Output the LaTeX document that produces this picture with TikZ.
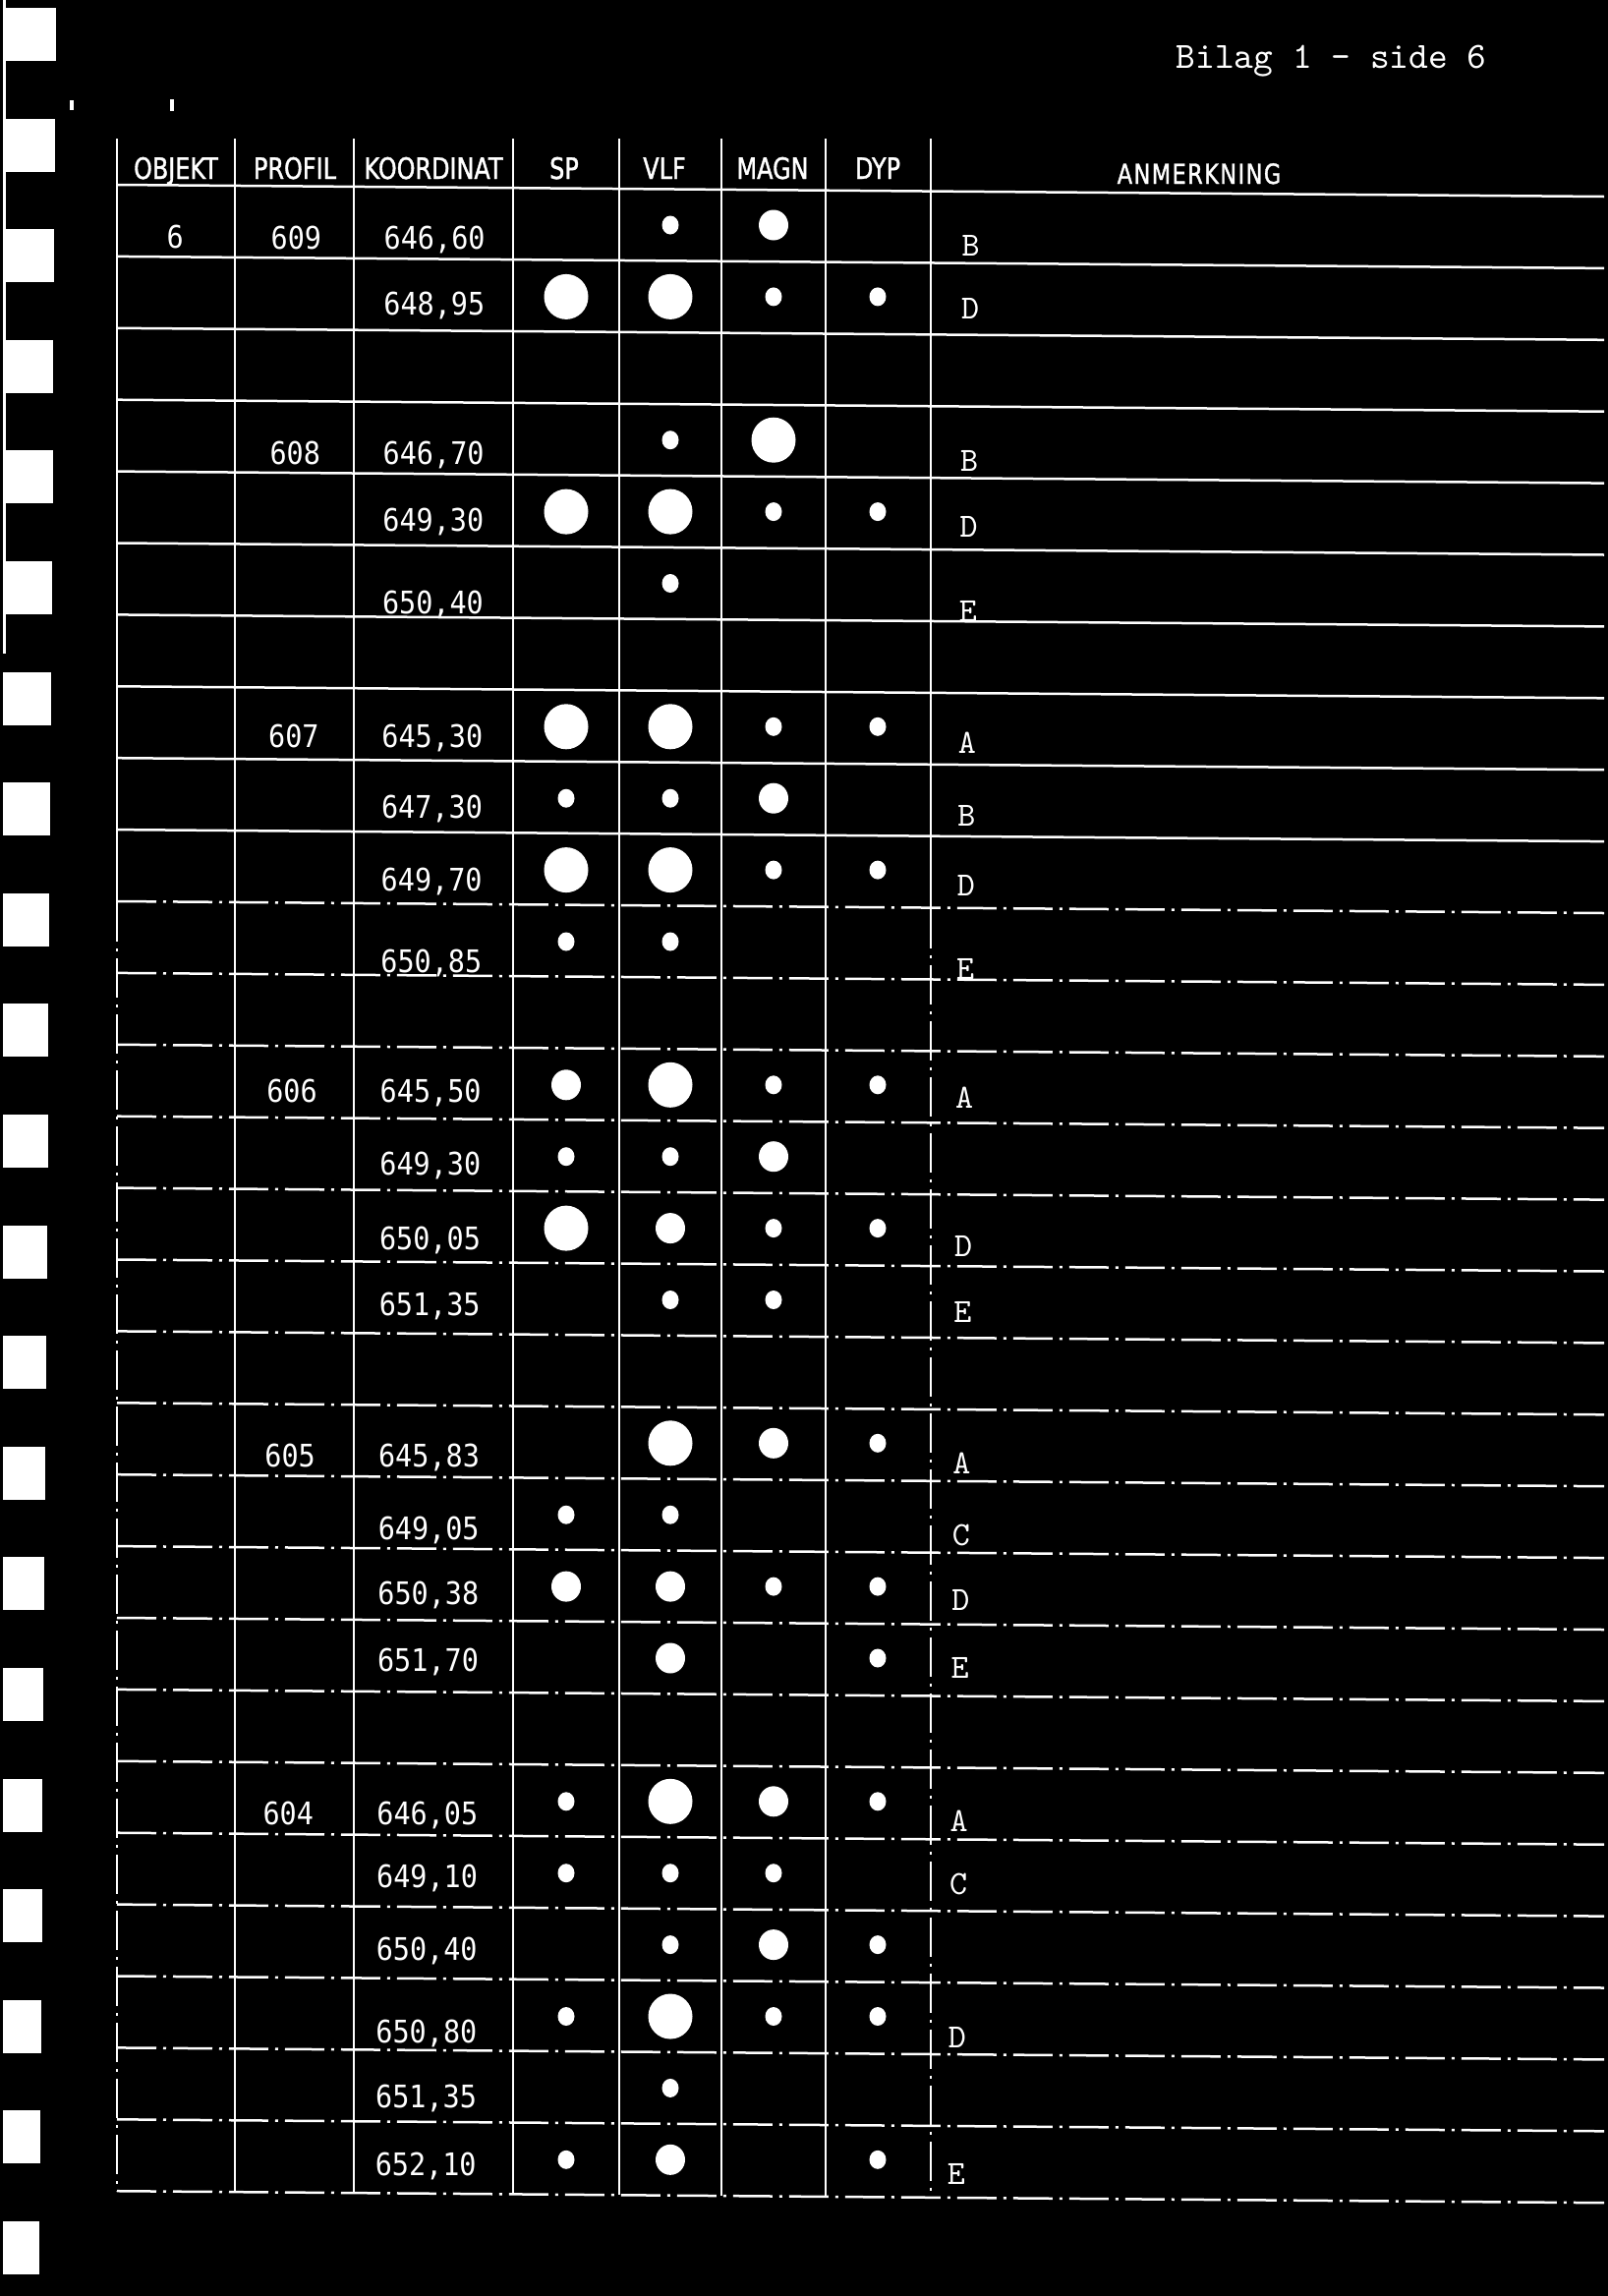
\documentclass[tikz,border=0pt]{standalone}
\usepackage{fontspec}
\newfontfamily\headfont[FakeStretch=0.8, FakeBold=1.2]{DejaVu Sans}
\newfontfamily\numfont[FakeStretch=0.9]{DejaVu Sans Mono}
\usetikzlibrary{shapes.geometric}

\tikzset{
  rule/.style={draw=white, line width=0.25mm},
  brokenrule/.style={rule, dash pattern=on 4mm off 0.7mm on 0.3mm off 0.7mm},
  head/.style={text=white, font=\headfont\fontsize{8.5}{10}\selectfont, inner sep=0pt, anchor=base},
  num/.style={text=white, font=\numfont\fontsize{9}{10}\selectfont, inner sep=0pt, anchor=base west},
  lbl/.style={text=white, font=\ttfamily\fontsize{9.8}{12}\selectfont, inner sep=0pt, anchor=base west},
  dot s/.style={ellipse, fill=white, inner sep=0pt, minimum width=1.7mm, minimum height=1.9mm},
  dot m/.style={ellipse, fill=white, inner sep=0pt, minimum width=3.0mm, minimum height=3.1mm},
  dot l/.style={ellipse, fill=white, inner sep=0pt, minimum width=4.5mm, minimum height=4.6mm},
  hole/.style={fill=white}
}
% a dot in a cell, none when the size is 0
\newcommand\celldot[3]{\if#10\else\node[dot #1] (#2) at (#3) {};\fi}

\begin{document}
\begin{tikzpicture}[x=0.1mm, y=-0.1mm]
  % Page
  \fill[black] (0,0) rectangle (1636,2336);
  \useasboundingbox (0,0) rectangle (1636,2336);
  % Binding holes
  \foreach \i in {0,...,20}
    \fill[hole] (3,{8+112.6*\i}) rectangle ({57-0.85*\i},{62+112.6*\i});
  \draw[white, line width=0.3mm] (4,0) -- (4,665);
  \fill[white] (71,102) rectangle (75,112);
  \fill[white] (173,101) rectangle (177,113);
  % Title
  \node (title) [text=white, font=\ttfamily\fontsize{10.7}{12}\selectfont, inner sep=0pt, anchor=base west] at (1196,69) {Bilag 1 - side 6};
  % Header
  \node (h-obj) [head] at (179,182) {OBJEKT};
  \node (h-prof) [head] at (300,182) {PROFIL};
  \node (h-koord) [head] at (441,182) {KOORDINAT};
  \node (h-sp) [head] at (574,182) {SP};
  \node (h-vlf) [head] at (676,182) {VLF};
  \node (h-magn) [head] at (786,182) {MAGN};
  \node (h-dyp) [head] at (893,182) {DYP};
  \node (h-anm) [head, font=\headfont\fontsize{8}{10}\selectfont\addfontfeatures{LetterSpace=5}] at (1220,187) {ANMERKNING};
  % Grid
  \foreach \k in {0,...,9}
    \draw[rule] (119,{188+72.9*\k}) -- (1632,{200+72.9*\k});
  \foreach \k in {10,...,28}
    \draw[brokenrule] (119,{188+72.9*\k}) -- (1632,{200+72.9*\k});
  \foreach \x in {239,360,522,630,734,840}
    \draw[rule] (\x,141) -- (\x,{2229+12*(\x-119)/1513});
  \foreach \x in {119,947} {
    \draw[rule] (\x,141) -- (\x,{918+12*(\x-119)/1513});
    \draw[brokenrule] (\x,{918+12*(\x-119)/1513}) -- (\x,{2229+12*(\x-119)/1513});
  }
  % Object and profiles
  \node (obj) [num] at (169,252) {6};
  \foreach \r/\prof/\off in {1/609/65, 4/608/66, 8/607/62, 13/606/59, 18/605/65, 23/604/65} {
    \pgfmathsetmacro\top{188+72.9*(\r-1)}
    \node (prof-\r) [num] at ({275-0.37*(\r-1)},\top+\off) {\prof};
  }
  % Coordinates and readings
  \foreach \r/\coord/\spv/\vlfv/\magnv/\dypv/\off in {
      1/{646,60}/0/s/m/0/65, 2/{648,95}/l/l/s/s/60,
      4/{646,70}/0/s/l/0/66, 5/{649,30}/l/l/s/s/61, 6/{650,40}/0/s/0/0/72,
      8/{645,30}/l/l/s/s/62, 9/{647,30}/s/s/m/0/61, 10/{649,70}/l/l/s/s/62, 11/{650,85}/s/s/0/0/72,
      13/{645,50}/m/l/s/s/59, 14/{649,30}/s/s/m/0/60, 15/{650,05}/l/m/s/s/63, 16/{651,35}/0/s/s/0/57,
      18/{645,83}/0/l/m/s/65, 19/{649,05}/s/s/0/0/66, 20/{650,38}/m/m/s/s/59, 21/{651,70}/0/m/0/s/54,
      23/{646,05}/s/l/m/s/65, 24/{649,10}/s/s/s/0/56, 25/{650,40}/0/s/m/s/57,
      26/{650,80}/s/l/s/s/68, 27/{651,35}/0/s/0/0/61, 28/{652,10}/s/m/0/s/57} {
    \pgfmathsetmacro\top{188+72.9*(\r-1)}
    \pgfmathsetmacro\dy{\top+41}
    \node (koord-\r) [num] at ({390-0.33*(\r-1)},\top+\off) {\coord};
    \celldot{\spv}{sp-\r}{576,\dy}
    \celldot{\vlfv}{vlf-\r}{682,\dy}
    \celldot{\magnv}{magn-\r}{787,\dy}
    \celldot{\dypv}{dyp-\r}{893,\dy}
  }
  % Remarks
  \foreach \r/\lbl/\off in {1/B/72, 2/D/64, 4/B/73, 5/D/67, 6/E/80, 8/A/68, 9/B/69, 10/D/67, 11/E/79,
      13/A/65, 15/D/70, 16/E/64, 18/A/72, 19/C/72, 20/D/65, 21/E/61, 23/A/72, 24/C/63, 26/D/73, 28/E/66} {
    \pgfmathsetmacro\top{188+72.9*(\r-1)}
    \node (anm-\r) [lbl] at ({978-0.55*(\r-1)},\top+\off) {\lbl};
  }
\end{tikzpicture}
\end{document}
